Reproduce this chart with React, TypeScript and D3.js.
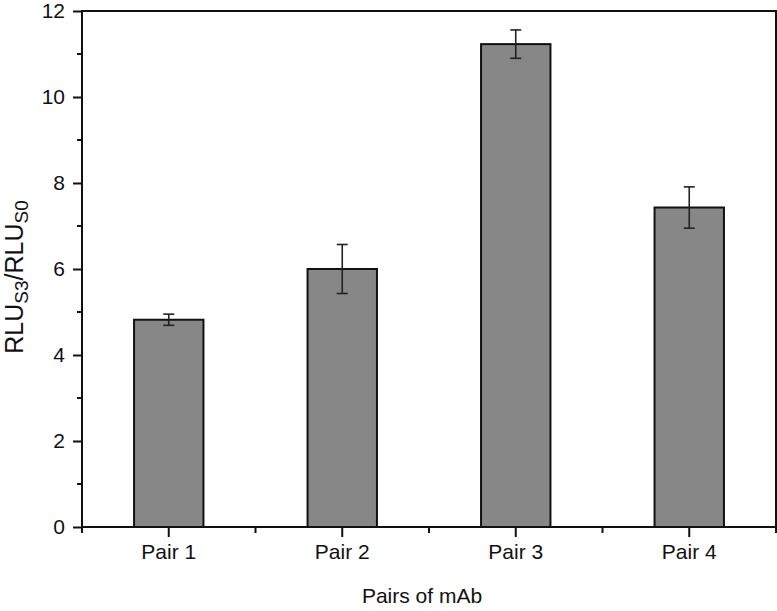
import React, { useEffect, useRef } from "react";
import * as d3 from "d3";

const categories = ["Pair 1", "Pair 2", "Pair 3", "Pair 4"];
const values = [4.82, 6.0, 11.23, 7.43];
const errors = [0.13, 0.57, 0.33, 0.48];
const yTicks = [0, 2, 4, 6, 8, 10, 12];

const W = 777;
const H = 611;
const margin = { top: 11, right: 1, bottom: 84, left: 82 };

export default function App() {
  const ref = useRef<SVGSVGElement>(null);

  useEffect(() => {
    const svg = d3.select(ref.current);
    svg.selectAll("*").remove();
    const iw = W - margin.left - margin.right;
    const ih = H - margin.top - margin.bottom;
    const font = "'Liberation Sans', Arial, sans-serif";

    const x = d3.scaleBand().domain(categories).range([0, iw]).paddingInner(0).paddingOuter(0);
    const y = d3.scaleLinear().domain([0, 12]).range([ih, 0]);
    const barW = x.bandwidth() * 0.4;

    const g = svg.append("g").attr("transform", `translate(${margin.left},${margin.top})`);

    // bars
    g.selectAll("rect.bar")
      .data(values)
      .enter()
      .append("rect")
      .attr("class", "bar")
      .attr("x", (d, i) => x(categories[i])! + x.bandwidth() / 2 - barW / 2)
      .attr("y", d => y(d))
      .attr("width", barW)
      .attr("height", d => ih - y(d))
      .attr("fill", "#878787")
      .attr("stroke", "#111")
      .attr("stroke-width", 2);

    // error bars
    const eg = g.selectAll("g.err").data(values).enter().append("g").attr("class", "err");
    const cx = (i: number) => x(categories[i])! + x.bandwidth() / 2;
    eg.append("line")
      .attr("x1", (d, i) => cx(i)).attr("x2", (d, i) => cx(i))
      .attr("y1", (d, i) => y(d + errors[i])).attr("y2", (d, i) => y(d - errors[i]));
    eg.append("line")
      .attr("x1", (d, i) => cx(i) - 5.5).attr("x2", (d, i) => cx(i) + 5.5)
      .attr("y1", (d, i) => y(d + errors[i])).attr("y2", (d, i) => y(d + errors[i]));
    eg.append("line")
      .attr("x1", (d, i) => cx(i) - 5.5).attr("x2", (d, i) => cx(i) + 5.5)
      .attr("y1", (d, i) => y(d - errors[i])).attr("y2", (d, i) => y(d - errors[i]));
    eg.selectAll("line").attr("stroke", "#222").attr("stroke-width", 1.6);

    // frame
    g.append("rect")
      .attr("x", 0).attr("y", 0).attr("width", iw).attr("height", ih)
      .attr("fill", "none").attr("stroke", "#111").attr("stroke-width", 2);

    // y axis
    const ya = g.append("g").call(
      d3.axisLeft(y).tickValues(yTicks).tickSize(9).tickPadding(8).tickFormat(d3.format("d"))
    );
    ya.select(".domain").remove();
    ya.selectAll("line").attr("stroke", "#111").attr("stroke-width", 2);
    ya.selectAll("text").attr("font-family", font).attr("font-size", 21).attr("fill", "#111");
    g.append("g")
      .selectAll("line")
      .data(d3.range(1, 12, 2))
      .enter()
      .append("line")
      .attr("x1", -5).attr("x2", 0)
      .attr("y1", d => y(d)).attr("y2", d => y(d))
      .attr("stroke", "#111").attr("stroke-width", 2);

    // x axis
    const xa = g.append("g").attr("transform", `translate(0,${ih})`).call(
      d3.axisBottom(x).tickSize(10).tickPadding(7)
    );
    xa.select(".domain").remove();
    xa.selectAll("line").attr("stroke", "#111").attr("stroke-width", 2);
    xa.selectAll("text").attr("font-family", font).attr("font-size", 21).attr("fill", "#111");
    g.append("g")
      .selectAll("line")
      .data(d3.range(categories.length + 1))
      .enter()
      .append("line")
      .attr("x1", d => d * x.step()).attr("x2", d => d * x.step())
      .attr("y1", ih).attr("y2", ih + 6)
      .attr("stroke", "#111").attr("stroke-width", 2);

    // axis titles
    svg.append("text")
      .attr("x", 422)
      .attr("y", 603)
      .attr("text-anchor", "middle")
      .attr("font-family", font)
      .attr("font-size", 21)
      .attr("fill", "#111")
      .text("Pairs of mAb");

    const yt = svg.append("text")
      .attr("transform", `translate(23,277) rotate(-90)`)
      .attr("text-anchor", "middle")
      .attr("font-family", font)
      .attr("font-size", 25)
      .attr("fill", "#111");
    yt.append("tspan").text("RLU");
    yt.append("tspan").attr("font-size", 19).attr("dy", 5).text("S3");
    yt.append("tspan").attr("dy", -5).text("/RLU");
    yt.append("tspan").attr("font-size", 19).attr("dy", 5).text("S0");
  }, []);

  return (
    <svg
      ref={ref}
      width={W}
      height={H}
      style={{ position: "absolute", left: 0, top: 0, background: "#fff" }}
    />
  );
}
